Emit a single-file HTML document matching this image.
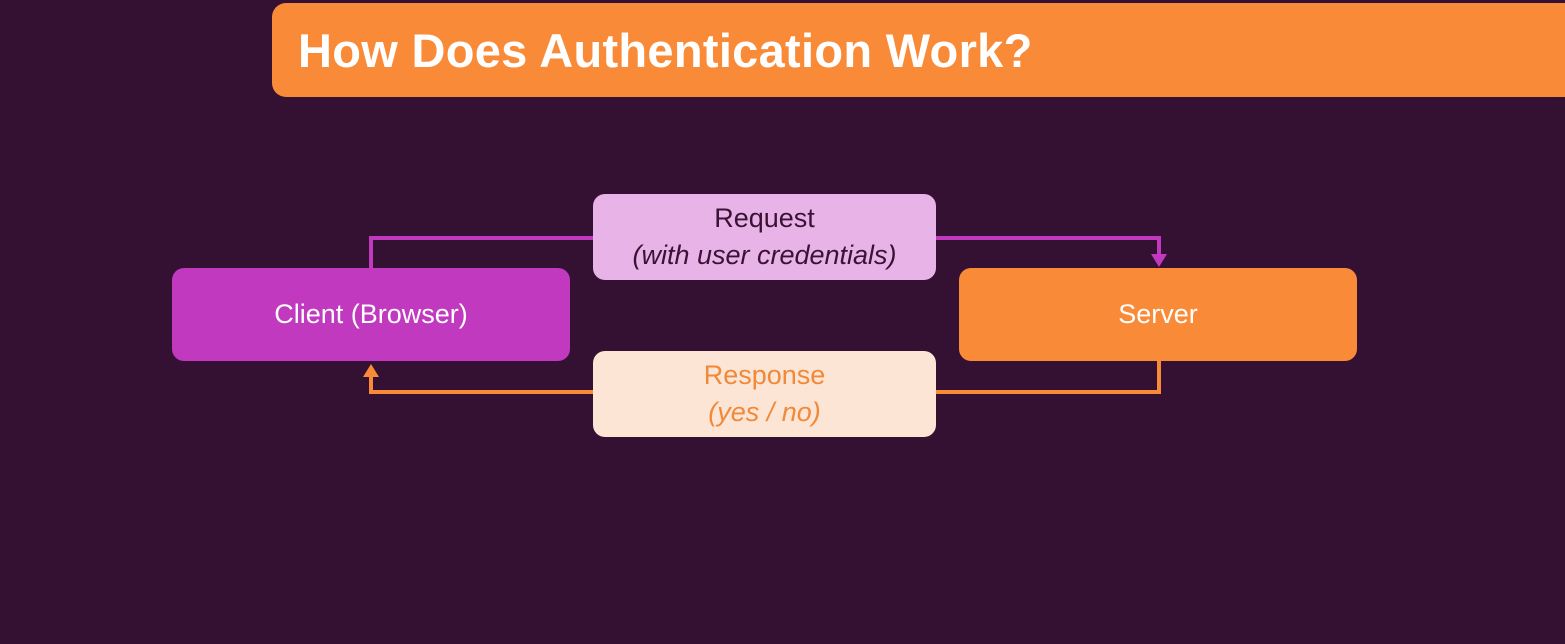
<!DOCTYPE html>
<html><head><meta charset="utf-8"><style>
html,body{margin:0;padding:0}
body{width:1565px;height:644px;background:#341132;position:relative;overflow:hidden;font-family:"Liberation Sans",sans-serif}
.hdr{position:absolute;left:272px;top:3px;width:1320px;height:94px;background:#f98a37;border-radius:14px}
.hdr span{position:absolute;left:26px;top:20px;color:#fff;font-weight:bold;font-size:47px;letter-spacing:0.3px;white-space:nowrap}
.box{position:absolute;border-radius:12px;text-align:center;box-sizing:border-box}
.big{font-size:27px;color:#fff;line-height:93px}
.lbl{font-size:27px;line-height:37px;padding-top:6px}
</style></head><body>
<div class="hdr"><span>How Does Authentication Work?</span></div>
<svg width="1565" height="644" style="position:absolute;left:0;top:0">
<polyline points="371,268 371,238 1159,238 1159,256" fill="none" stroke="#c139bf" stroke-width="4"/>
<polygon points="1151,254 1167,254 1159,267" fill="#c139bf"/>
<polyline points="1159,361 1159,392 371,392 371,374" fill="none" stroke="#f98a37" stroke-width="4"/>
<polygon points="363,377 379,377 371,364" fill="#f98a37"/>
</svg>
<div class="box big" style="left:172px;top:268px;width:398px;height:93px;background:#c139bf">Client (Browser)</div>
<div class="box big" style="left:959px;top:268px;width:398px;height:93px;background:#f98a37">Server</div>
<div class="box lbl" style="left:593px;top:194px;width:343px;height:86px;background:#e8b4e8;color:#3a1235"><div>Request</div><div><i>(with user credentials)</i></div></div>
<div class="box lbl" style="left:593px;top:351px;width:343px;height:86px;background:#fde5d5;color:#f0893a"><div>Response</div><div><i>(yes / no)</i></div></div>
</body></html>
